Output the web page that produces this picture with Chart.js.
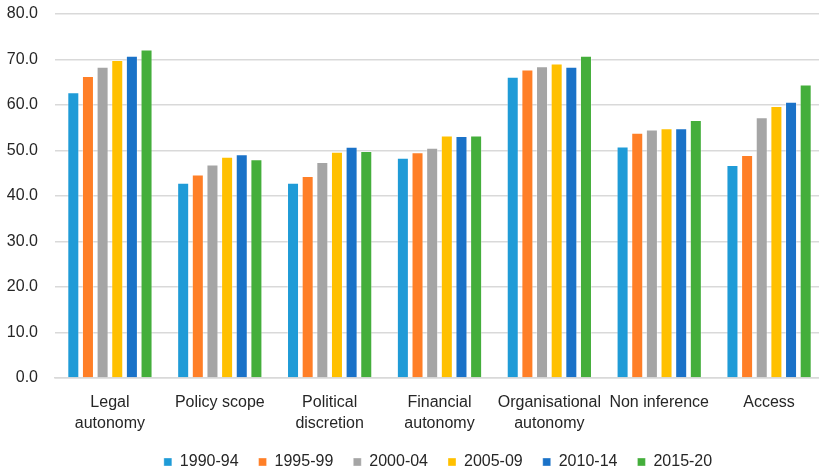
<!DOCTYPE html>
<html>
<head>
<meta charset="utf-8">
<script src="https://cdn.jsdelivr.net/npm/chart.js@4"></script>
<style>
  html, body { margin: 0; padding: 0; background: #fff; overflow: hidden; width: 819px; height: 471px; }
  #wrap { position: relative; width: 876px; height: 480px; }
</style>
</head>
<body>
<div id="wrap"><canvas id="chart"></canvas></div>
<script>
// categories and values
const categories = [['Legal', 'autonomy'], 'Policy scope', ['Political', 'discretion'], ['Financial', 'autonomy'], ['Organisational', 'autonomy'], 'Non inference', 'Access'];
const periods = ['1990-94', '1995-99', '2000-04', '2005-09', '2010-14', '2015-20'];

const v1990 = [62.8, 42.9, 42.9, 48.4, 66.2, 50.9, 46.8];
const v1995 = [66.4, 44.7, 44.4, 49.6, 67.8, 53.9, 49.0];
const v2000 = [68.4, 46.9, 47.5, 50.6, 68.5, 54.6, 57.3];
const v2005 = [69.9, 48.6, 49.7, 53.3, 69.1, 54.9, 59.8];
const v2010 = [70.8, 49.2, 50.8, 53.2, 68.4, 54.9, 60.7];
const v2015 = [72.2, 48.1, 49.9, 53.3, 70.8, 56.7, 64.5];

const yTicks = [0, 10, 20, 30, 40, 50, 60, 70, 80];

const colors = ['#1F9BD7', '#FF7F27', '#A5A5A5', '#FFC000', '#1A72C8', '#44AE3B'];
const seriesValues = [v1990, v1995, v2000, v2005, v2010, v2015];

const textColor = '#262626';
const fontFamily = '"Liberation Sans", Arial, sans-serif';

const ctx = document.getElementById('chart').getContext('2d');
new Chart(ctx, {
    type: 'bar',
    data: {
        labels: categories,
        datasets: periods.map((p, i) => ({
            label: p,
            data: seriesValues[i],
            backgroundColor: colors[i],
            borderColor: 'rgba(255,255,255,0.35)',
            borderWidth: 1,
            categoryPercentage: 0.8,
            barPercentage: 0.82
        }))
    },
    options: {
        responsive: true,
        maintainAspectRatio: false,
        animation: false,
        layout: { padding: { top: 14, left: 0, right: 0, bottom: 0 } },
        scales: {
            x: {
                grid: { display: false, drawTicks: false },
                border: { color: '#d9d9d9', width: 1.5 },
                ticks: {
                    color: textColor,
                    font: { family: fontFamily, size: 16, lineHeight: 1.3 },
                    padding: 14,
                    maxRotation: 0,
                    autoSkip: false
                },
                afterFit(scale) { scale.height = 56; }
            },
            y: {
                min: 0,
                max: 80,
                afterBuildTicks(scale) { scale.ticks = yTicks.map(v => ({ value: v })); },
                grid: { color: '#d9d9d9', lineWidth: 1.5, drawTicks: false },
                border: { display: false },
                ticks: {
                    color: textColor,
                    font: { family: fontFamily, size: 16 },
                    padding: 17,
                    callback: v => v.toFixed(1)
                },
                afterFit(scale) {
                    scale.width = 55;
                    // tick padding would otherwise push the plot top down
                    scale.paddingTop = 0;
                    scale.paddingBottom = 0;
                }
            },
            // empty right axis, only keeps space so the plot runs past the visible edge
            y2: {
                position: 'right',
                display: true,
                grid: { display: false, drawTicks: false },
                border: { display: false },
                ticks: { display: false },
                afterFit(scale) { scale.width = 52; }
            }
        },
        plugins: {
            legend: {
                position: 'bottom',
                labels: {
                    color: textColor,
                    font: { family: fontFamily, size: 16 },
                    boxWidth: 8,
                    boxHeight: 8,
                    padding: 20
                }
            },
            tooltip: { enabled: false }
        }
    }
});
</script>
</body>
</html>
